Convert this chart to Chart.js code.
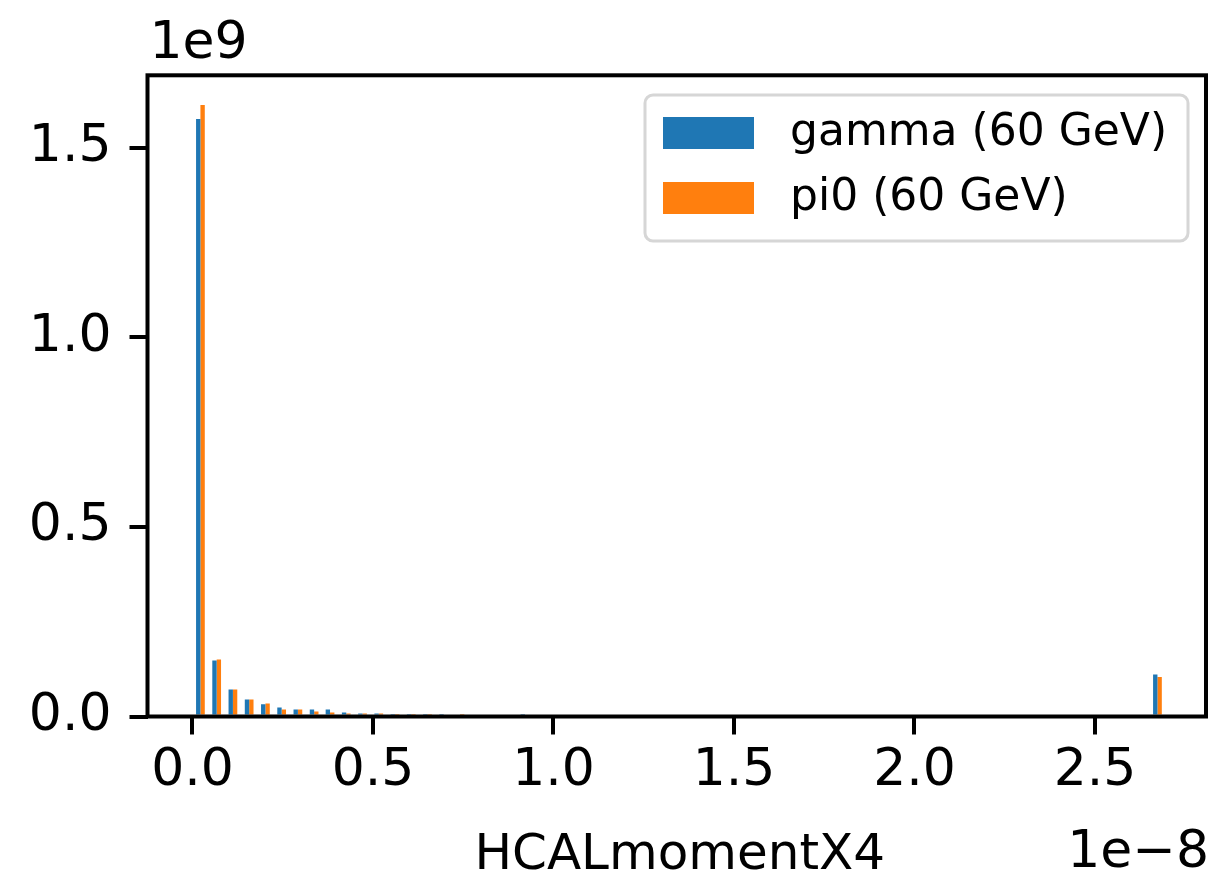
<!DOCTYPE html>
<html><head><meta charset="utf-8">
<script src="https://cdn.jsdelivr.net/npm/chart.js@4/dist/chart.umd.min.js"></script>
<style>html,body{margin:0;padding:0;background:#fff;}#wrap{width:1218px;height:876px;position:relative;}</style>
</head><body><div id="wrap"><canvas id="c" width="1218" height="876"></canvas></div>
<script>
// Bin centres (units of 1e-8)
const binCenters = [0.022,0.067,0.112,0.157,0.202,0.247,0.292,0.337,0.381,0.426,
0.471,0.516,0.561,0.606,0.651,0.696,0.741,0.786,0.831,0.876,
0.921,0.966,1.010,1.055,1.100,1.145,1.190,1.235,1.280,1.325,
1.370,1.415,1.460,1.505,1.550,1.595,1.639,1.684,1.729,1.774,
1.819,1.864,1.909,1.954,1.999,2.044,2.089,2.134,2.179,2.224,
2.269,2.313,2.358,2.403,2.448,2.493,2.538,2.583,2.628,2.673];
// Heights (units of 1e9)
const gammaValues = [1.576,0.148,0.071,0.045,0.032,0.024,0.0185,0.0185,0.0185,0.0106,
0.008,0.008,0.003,0.003,0.003,0.002,0,0,0,0,
0.002,0,0,0,0,0,0,0,0,0,
0,0,0,0,0,0,0,0,0,0,
0,0,0,0,0,0,0,0,0,0,
0,0,0,0,0,0,0,0,0,0.111];
const pi0Values = [1.613,0.150,0.071,0.045,0.034,0.0185,0.0185,0.0132,0.0106,0.008,
0.008,0.008,0.002,0.002,0.002,0,0.002,0,0,0,
0,0,0,0,0,0,0,0,0,0,
0,0,0,0,0,0,0,0,0,0,
0,0,0,0,0,0,0,0,0,0,
0,0,0,0,0,0,0,0,0,0.104];
const seriesLabels = ['gamma (60 GeV)', 'pi0 (60 GeV)'];
const seriesColors = ['#1f77b4', '#ff7f0e'];
const xTickValues = [0, 0.5, 1.0, 1.5, 2.0, 2.5];
const yTickValues = [0, 0.5, 1.0, 1.5];
const xAxisLabel = 'HCALmomentX4';
const xOffsetText = '1e\u22128';
const yOffsetText = '1e9';

const FONT = 'DejaVu Sans';
const LEFT = 147.5, RIGHT = 1206, TOP = 75.3, BOTTOM = 716.5;

const framePlugin = {
  id: 'frame',
  afterDatasetsDraw(chart) {
    const ctx = chart.ctx, a = chart.chartArea;
    ctx.save();
    ctx.strokeStyle = '#000';
    ctx.lineWidth = 4;
    ctx.lineJoin = 'miter';
    ctx.strokeRect(a.left, a.top, a.right - a.left, a.bottom - a.top);
    ctx.restore();
  },
  afterDraw(chart) {
    const ctx = chart.ctx, a = chart.chartArea;
    ctx.save();
    ctx.fillStyle = '#000';
    ctx.textBaseline = 'alphabetic';
    ctx.font = '52px "' + FONT + '"';
    ctx.textAlign = 'left';
    ctx.fillText(yOffsetText, a.left + 2, 58);
    ctx.textAlign = 'right';
    ctx.fillText(xOffsetText, a.right + 3, 867);
    ctx.font = '50px "' + FONT + '"';
    ctx.textAlign = 'center';
    ctx.fillText(xAxisLabel, (a.left + a.right) / 2 + 3, 869);
    // legend
    const bx = 645, by = 95, bw = 543, bh = 146;
    ctx.beginPath();
    ctx.roundRect(bx, by, bw, bh, 8);
    ctx.fillStyle = 'rgba(255,255,255,0.8)';
    ctx.fill();
    ctx.strokeStyle = '#d6d6d6';
    ctx.lineWidth = 3;
    ctx.stroke();
    ctx.font = '44px "' + FONT + '"';
    ctx.textAlign = 'left';
    ctx.textBaseline = 'middle';
    chart.data.datasets.forEach((ds, i) => {
      const py = 117 + i * 65;
      ctx.fillStyle = ds.backgroundColor;
      ctx.fillRect(663, py, 91, 32);
      ctx.fillStyle = '#000';
      ctx.fillText(ds.label, 790, py + 17);
    });
    ctx.restore();
  }
};

const datasets = [gammaValues, pi0Values].map((vals, k) => ({
  label: seriesLabels[k],
  data: binCenters.map((x, i) => ({ x: x, y: vals[i] })),
  backgroundColor: seriesColors[k],
  borderWidth: 0,
  categoryPercentage: 0.55,
  barPercentage: 1.0
}));

new Chart(document.getElementById('c'), {
  type: 'bar',
  data: { datasets },
  options: {
    responsive: false,
    animation: false,
    devicePixelRatio: 1,
    layout: { padding: { left: 0, right: 1218 - RIGHT, top: TOP, bottom: 0 } },
    plugins: { legend: { display: false }, tooltip: { enabled: false } },
    scales: {
      x: {
        type: 'linear',
        min: -0.1246, max: 2.8075,
        offset: false,
        afterBuildTicks(s) { s.ticks = xTickValues.map(v => ({ value: v })); },
        afterFit(s) { s.height = 876 - BOTTOM; },
        ticks: { callback: v => v.toFixed(1), color: '#000', font: { family: FONT, size: 52 }, padding: 6, maxRotation: 0, autoSkip: false },
        grid: { display: true, offset: false, drawOnChartArea: false, drawTicks: true, tickLength: 18, color: '#000', lineWidth: 4 },
        border: { display: false }
      },
      y: {
        type: 'linear',
        min: 0, max: 1.691,
        afterBuildTicks(s) { s.ticks = yTickValues.map(v => ({ value: v })); },
        afterFit(s) { s.width = LEFT; },
        ticks: { callback: v => v.toFixed(1), color: '#000', font: { family: FONT, size: 52 }, padding: 18, autoSkip: false },
        grid: { display: true, offset: false, drawOnChartArea: false, drawTicks: true, tickLength: 18, color: '#000', lineWidth: 4 },
        border: { display: false }
      }
    }
  },
  plugins: [framePlugin]
});
</script></body></html>
